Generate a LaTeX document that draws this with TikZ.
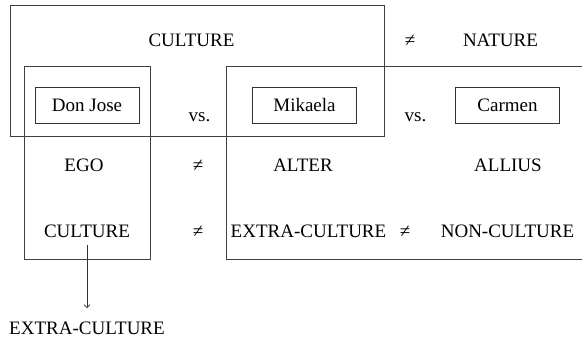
\documentclass[tikz,border=0pt]{standalone}
\usepackage{fontspec}
\setmainfont{Liberation Serif}
\usepackage{tikz}
\usetikzlibrary{arrows.meta}

\begin{document}
\begin{tikzpicture}[
    x=1pt, y=-1pt,
    font=\fontsize{19}{22}\selectfont,
    frame/.style={draw=black!75, line width=0.9pt},
    person/.style={draw=black!80, line width=0.9pt, minimum width=104pt, minimum height=36pt, inner sep=0pt},
    word/.style={anchor=base, inner sep=0pt},
    line/.style={draw=black!80, line width=0.7pt, -{Straight Barb[length=3pt, width=6pt]}}
]
\useasboundingbox (0,0) rectangle (582,339);

% Frames
\draw[frame] (10.5,5.5) rectangle (384.5,136.5);
\draw[frame] (24.5,66.5) rectangle (150.5,259);
\draw[frame] (582,66.5) -| (226.5,259) -- (582,259);

% Nodes
\node[word] (culture) at (191.5,47) {CULTURE};
\node[word] (neq1) at (410,47) {≠};
\node[word] (nature) at (500.5,47) {NATURE};

\node[person] (jose) at (87,105) {Don Jose};
\node[person] (mikaela) at (304.5,105) {Mikaela};
\node[person] (carmen) at (507.5,105) {Carmen};
\node[word] (vs1) at (199.5,122) {vs.};
\node[word] (vs2) at (415.5,122) {vs.};

\node[word] (ego) at (84,172) {EGO};
\node[word] (neq2) at (198,172) {≠};
\node[word] (alter) at (303,172) {ALTER};
\node[word] (allius) at (508,172) {ALLIUS};

\node[word] (own) at (87,238) {CULTURE};
\node[word] (neq3) at (198,238) {≠};
\node[word] (extra) at (308.5,238) {EXTRA-CULTURE};
\node[word] (neq4) at (405,238) {≠};
\node[word] (non) at (507.5,238) {NON-CULTURE};

\node[word] (outside) at (87,335) {EXTRA-CULTURE};

% Arrow
\draw[line] ([yshift=-7pt]own.south) -- ([yshift=14pt]outside.north);

\end{tikzpicture}
\end{document}
